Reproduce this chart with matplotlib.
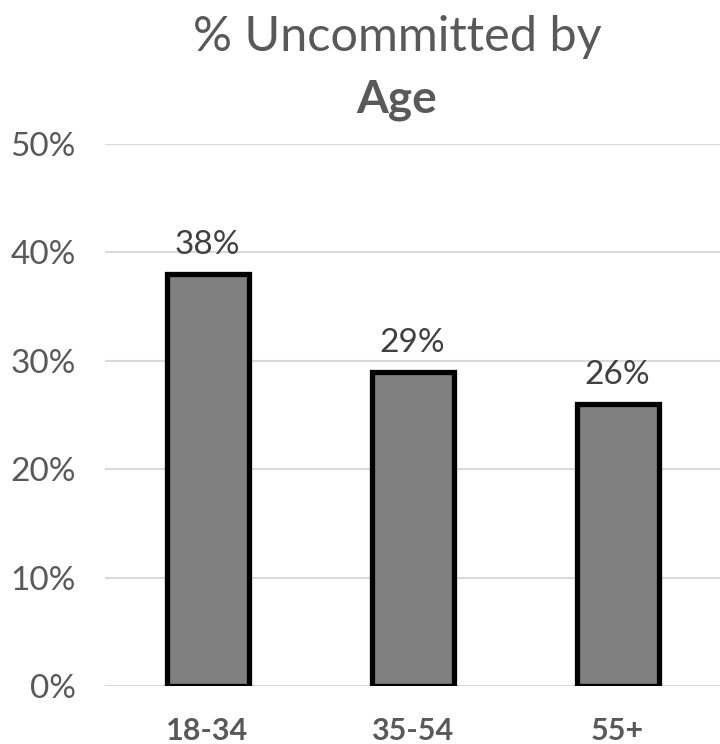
import matplotlib
matplotlib.use("Agg")
import matplotlib.pyplot as plt

categories = ["18-34", "35-54", "55+"]
values = [38, 29, 26]
yticks = [0, 10, 20, 30, 40, 50]

plt.rcParams['font.family'] = ['Lato', 'DejaVu Sans']

fig = plt.figure(figsize=(7.2, 7.44), dpi=100)
ax = fig.add_axes([105/720, 1-686/744, 615/720, (686-144)/744])

x = range(len(categories))
ax.bar(x, values, width=0.4, color="#808080", edgecolor="black", linewidth=3.8, zorder=3)
ax.set_xlim(-0.5, 2.5)
ax.set_ylim(0, 50)
ax.set_yticks(yticks)
ax.set_yticklabels([f"{v}%" for v in yticks], fontsize=24, color="#595959")
ax.set_xticks(list(x))
ax.set_xticklabels(categories, fontsize=22, fontweight="bold", color="#595959")
ax.tick_params(axis="both", length=0)
ax.tick_params(axis="y", pad=21)
ax.tick_params(axis="x", pad=22)
ax.grid(axis="y", color="#d9d9d9", linewidth=1.5, zorder=0)
for s in ax.spines.values():
    s.set_visible(False)

for xi, v in zip(x, values):
    ax.annotate(f"{v}%", (xi, v), xytext=(0, 10), textcoords="offset points",
                ha="center", va="bottom", fontsize=24, color="#404040")

fig.text(397/720, 1-37/744, "% Uncommitted by", ha="center", va="center",
         fontsize=35, color="#595959")
fig.text(397/720, 1-100/744, "Age", ha="center", va="center",
         fontsize=33, fontweight="bold", color="#595959")

fig.savefig("out.png", dpi=100)
